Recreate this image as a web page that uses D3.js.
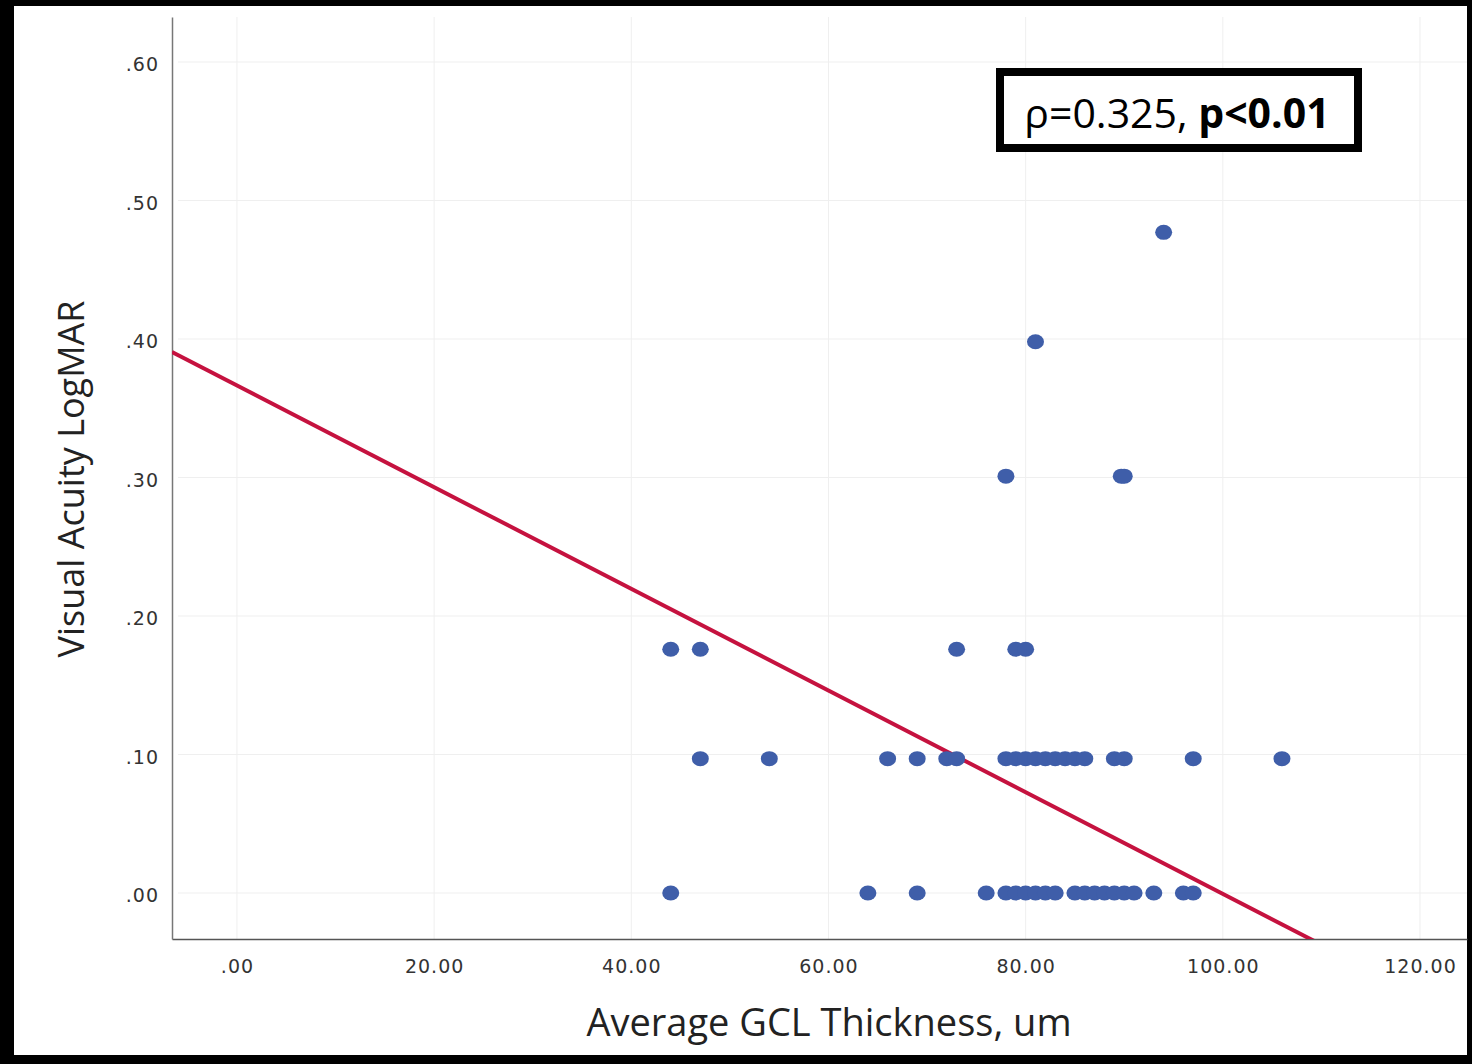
<!DOCTYPE html>
<html>
<head>
<meta charset="utf-8">
<script src="https://cdn.jsdelivr.net/npm/d3@7"></script>
<style>
  html, body { margin: 0; padding: 0; background: #000; }
  svg { display: block; }
  .tick-label { font-family: "DejaVu Sans", sans-serif; font-size: 19px; letter-spacing: 1px; fill: #333; }
  .title { font-family: "Open Sans", "Noto Sans", sans-serif; fill: #222; }
</style>
</head>
<body>
<div id="chart"></div>
<script>
// data: GCL thickness (um) and logMAR for each eye
var gcl = [
  44, 64, 69, 76, 78, 79, 80, 81, 82, 83, 85, 86, 87, 88, 89, 90, 91, 93, 96, 97,
  47, 54, 66, 69, 72, 73, 78, 79, 80, 81, 82, 83, 84, 85, 86, 89, 90, 97, 106,
  44, 47, 73, 79, 80,
  78, 89.7, 90,
  81,
  94
];
var logmar = [
  0, 0, 0, 0, 0, 0, 0, 0, 0, 0, 0, 0, 0, 0, 0, 0, 0, 0, 0, 0,
  0.097, 0.097, 0.097, 0.097, 0.097, 0.097, 0.097, 0.097, 0.097, 0.097, 0.097, 0.097, 0.097, 0.097, 0.097, 0.097, 0.097, 0.097, 0.097,
  0.176, 0.176, 0.176, 0.176, 0.176,
  0.301, 0.301, 0.301,
  0.398,
  0.477
];

var xTicks = [0, 20, 40, 60, 80, 100, 120];
var yTicks = [0, 0.1, 0.2, 0.3, 0.4, 0.5, 0.6];

// linear fit line
var fitIntercept = 0.3664,
    fitSlope = -0.00367;

var W = 1472, H = 1064;
var frame = {left: 14, top: 6, right: 1467, bottom: 1055};
var margin = {top: 17, right: 1467, bottom: 939, left: 172};

var svg = d3.select("#chart").append("svg")
    .attr("width", W)
    .attr("height", H);

// white page inside the black border
svg.append("rect")
    .attr("x", frame.left).attr("y", frame.top)
    .attr("width", frame.right - frame.left)
    .attr("height", frame.bottom - frame.top)
    .attr("fill", "#fff");

var x = d3.scaleLinear()
    .domain([-6.59, 124.77])
    .range([margin.left, margin.right]);

var y = d3.scaleLinear()
    .domain([-0.0332, 0.6325])
    .range([margin.bottom, margin.top]);

svg.append("clipPath").attr("id", "plotclip")
  .append("rect")
    .attr("x", margin.left).attr("y", margin.top)
    .attr("width", margin.right - margin.left)
    .attr("height", margin.bottom - margin.top);

// gridlines
svg.append("g")
  .selectAll("line")
  .data(xTicks)
  .enter().append("line")
    .attr("x1", function(d) { return x(d); })
    .attr("x2", function(d) { return x(d); })
    .attr("y1", margin.top)
    .attr("y2", margin.bottom)
    .attr("stroke", "#efefef")
    .attr("stroke-width", 1);

svg.append("g")
  .selectAll("line")
  .data(yTicks)
  .enter().append("line")
    .attr("x1", margin.left + 6)
    .attr("x2", margin.right)
    .attr("y1", function(d) { return y(d); })
    .attr("y2", function(d) { return y(d); })
    .attr("stroke", "#efefef")
    .attr("stroke-width", 1);

// axes
var fmtX = function(d) { return d === 0 ? ".00" : d3.format(".2f")(d); };
var fmtY = function(d) { return d3.format(".2f")(d).replace(/^0/, ""); };

var xAxis = svg.append("g")
    .attr("transform", "translate(0," + margin.bottom + ")")
    .call(d3.axisBottom(x).tickValues(xTicks).tickFormat(fmtX).tickSize(0).tickPadding(21));
xAxis.select(".domain").attr("stroke", "#555").attr("stroke-width", 1.5);
xAxis.selectAll("text").attr("class", "tick-label").attr("fill", null);

var yAxis = svg.append("g")
    .attr("transform", "translate(" + margin.left + ",0)")
    .call(d3.axisLeft(y).tickValues(yTicks).tickFormat(fmtY).tickSize(0).tickPadding(13));
yAxis.select(".domain").attr("stroke", "#777").attr("stroke-width", 1.5);
yAxis.selectAll("text").attr("class", "tick-label").attr("fill", null).attr("dy", "0.45em");

// fit line
var xd = x.domain();
svg.append("line")
    .attr("clip-path", "url(#plotclip)")
    .attr("x1", x(xd[0]))
    .attr("y1", y(fitIntercept + fitSlope * xd[0]))
    .attr("x2", x(xd[1]))
    .attr("y2", y(fitIntercept + fitSlope * xd[1]))
    .attr("stroke", "#c5123f")
    .attr("stroke-width", 4);

// points
svg.append("g")
  .selectAll(".dot")
  .data(gcl)
  .enter().append("ellipse")
    .attr("class", "dot")
    .attr("cx", function(d) { return x(d); })
    .attr("cy", function(d, i) { return y(logmar[i]); })
    .attr("rx", 8.5)
    .attr("ry", 7.5)
    .attr("fill", "#3f5ea9");

// axis titles
svg.append("text")
    .attr("class", "title")
    .attr("x", 829)
    .attr("y", 1036)
    .attr("text-anchor", "middle")
    .style("font-size", "38px")
    .text("Average GCL Thickness, um");

svg.append("text")
    .attr("class", "title")
    .attr("transform", "translate(84,479) rotate(-90)")
    .attr("text-anchor", "middle")
    .style("font-size", "36px")
    .text("Visual Acuity LogMAR");

// correlation box
svg.append("rect")
    .attr("x", 1000).attr("y", 72)
    .attr("width", 358).attr("height", 76)
    .attr("fill", "#fff")
    .attr("stroke", "#000")
    .attr("stroke-width", 8);

var note = svg.append("text")
    .attr("x", 1177)
    .attr("y", 128)
    .attr("text-anchor", "middle")
    .style("font-family", "'Open Sans', 'Noto Sans', sans-serif")
    .style("font-size", "41px")
    .attr("fill", "#000");
note.append("tspan").text("\u03c1=0.325, ");
note.append("tspan").attr("font-weight", "bold").text("p<0.01");
</script>
</body>
</html>
